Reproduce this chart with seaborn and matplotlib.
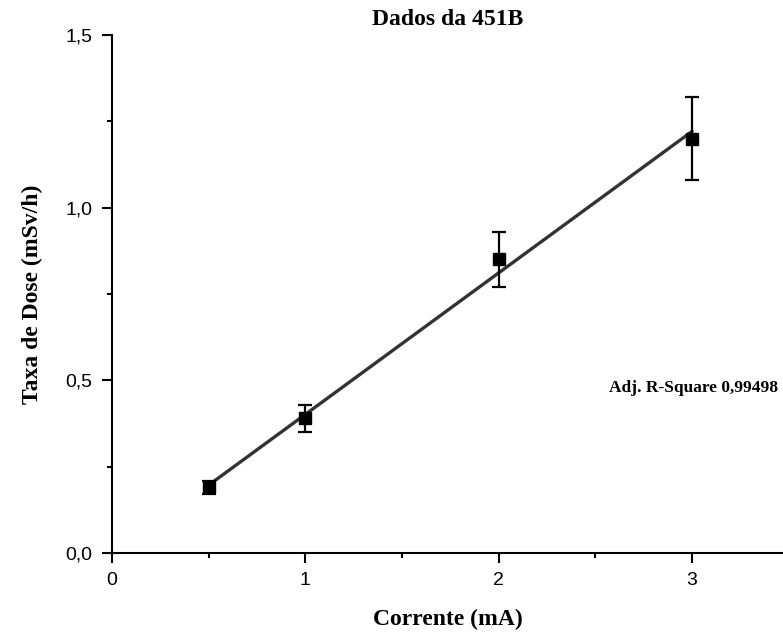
import numpy as np
import pandas as pd
import matplotlib
matplotlib.use("Agg")
import matplotlib.pyplot as plt
import seaborn as sns
from matplotlib.ticker import FuncFormatter, MultipleLocator

corrente = [0.5, 1.0, 2.0, 3.0]
taxa = [0.19, 0.39, 0.85, 1.20]
erro = [0.018, 0.04, 0.08, 0.12]
title = "Dados da 451B"
xlabel = "Corrente (mA)"
ylabel = "Taxa de Dose (mSv/h)"
r2_text = "Adj. R-Square 0,99498"

df = pd.DataFrame({"corrente": corrente, "taxa": taxa, "erro": erro})

sns.set_theme(style="ticks")
plt.rcParams['font.family'] = ['Liberation Sans', 'DejaVu Sans']
plt.rcParams['text.color'] = 'black'
plt.rcParams['axes.labelcolor'] = 'black'

fig = plt.figure(figsize=(7.83, 6.36), dpi=100)
ax = fig.add_axes([0.143, 0.1305, 0.857, 0.8145])

sns.regplot(data=df, x="corrente", y="taxa", scatter=False, ci=None, ax=ax,
            line_kws=dict(color="#333333", lw=2.4), truncate=True)
ax.errorbar(df["corrente"], df["taxa"], yerr=df["erro"], fmt="s", color="black",
            ms=8, capsize=5, elinewidth=1.6, capthick=1.6, zorder=3)

ax.set_xlim(0, 3.47)
ax.set_ylim(0, 1.5)
ax.xaxis.set_major_locator(MultipleLocator(1))
ax.xaxis.set_minor_locator(MultipleLocator(0.5))
ax.yaxis.set_major_locator(MultipleLocator(0.5))
ax.yaxis.set_minor_locator(MultipleLocator(0.25))
ax.yaxis.set_major_formatter(FuncFormatter(lambda v, p: f"{v:.1f}".replace(".", ",")))
ax.xaxis.set_major_formatter(FuncFormatter(lambda v, p: f"{v:.0f}"))

ax.tick_params(which="major", direction="out", length=7, width=1.5, labelsize=14,
               colors="black", pad=7)
ax.tick_params(which="minor", direction="out", length=3.5, width=1.5, colors="black")
for s in ["left", "bottom"]:
    ax.spines[s].set_linewidth(1.5)
    ax.spines[s].set_color("black")
sns.despine(ax=ax)

serif = ['Liberation Serif', 'DejaVu Serif']
ax.set_xlabel(xlabel, fontsize=17, fontweight="bold", family=serif, labelpad=14)
ax.set_ylabel(ylabel, fontsize=17, fontweight="bold", family=serif, labelpad=16)
ax.set_title(title, fontsize=17, fontweight="bold", family=serif, pad=7)
ax.text(0.993, 0.318, r2_text, transform=ax.transAxes, ha="right", va="center",
        fontsize=12.5, fontweight="bold", family=serif)

fig.savefig("out.png", dpi=100)
